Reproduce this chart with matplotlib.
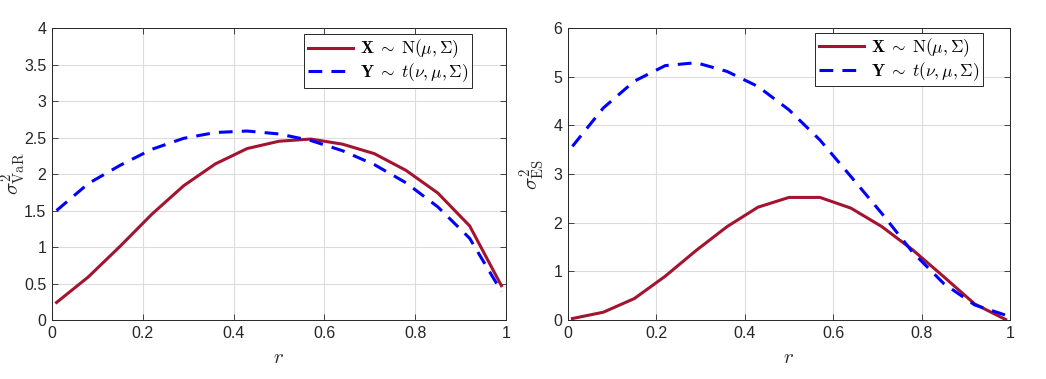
import matplotlib
matplotlib.use("Agg")
import matplotlib.pyplot as plt

r = [0.01, 0.08, 0.15, 0.22, 0.29, 0.36, 0.43, 0.50, 0.57, 0.64, 0.71, 0.78, 0.85, 0.92, 0.99]

var_normal = [0.24, 0.59, 1.01, 1.45, 1.84, 2.14, 2.35, 2.45, 2.48, 2.41, 2.28, 2.05, 1.74, 1.29, 0.47]
var_t = [1.50, 1.87, 2.12, 2.34, 2.49, 2.57, 2.59, 2.55, 2.46, 2.32, 2.13, 1.88, 1.55, 1.12, 0.39]

es_normal = [0.03, 0.16, 0.44, 0.90, 1.43, 1.92, 2.32, 2.52, 2.52, 2.30, 1.92, 1.44, 0.89, 0.33, 0.01]
es_t = [3.57, 4.36, 4.91, 5.23, 5.29, 5.11, 4.80, 4.32, 3.70, 2.95, 2.19, 1.39, 0.75, 0.31, 0.10]

xticks = [0, 0.2, 0.4, 0.6, 0.8, 1]
xticklabels = ["0", "0.2", "0.4", "0.6", "0.8", "1"]
var_yticks = [0, 0.5, 1, 1.5, 2, 2.5, 3, 3.5, 4]
var_yticklabels = ["0", "0.5", "1", "1.5", "2", "2.5", "3", "3.5", "4"]
es_yticks = [0, 1, 2, 3, 4, 5, 6]
es_yticklabels = ["0", "1", "2", "3", "4", "5", "6"]

label_x = r"$\mathbf{X}\;\sim\;\mathrm{N}(\mu, \Sigma)$"
label_y = r"$\mathbf{Y}\;\sim\;t(\nu, \mu, \Sigma)$"

plt.rcParams["mathtext.fontset"] = "cm"
plt.rcParams["font.family"] = ["Liberation Sans", "DejaVu Sans"]

RED = "#A2142F"
BLUE = "#0000FF"
TXT = "#262626"

fig = plt.figure(figsize=(10.46, 3.79), dpi=100)
ax1 = fig.add_axes([0.0497, 0.1557, 0.434, 0.770])
ax2 = fig.add_axes([0.543, 0.1557, 0.4226, 0.770])

def style(ax, yt, ytl, ylim, ylabel, ylx):
    ax.set_xlim(0, 1)
    ax.set_ylim(*ylim)
    ax.set_xticks(xticks)
    ax.set_xticklabels(xticklabels)
    ax.set_yticks(yt)
    ax.set_yticklabels(ytl)
    ax.grid(True, color="#dcdcdc", linewidth=0.8)
    ax.set_axisbelow(True)
    ax.tick_params(direction="in", top=True, right=True, labelsize=11.5,
                   colors=TXT, length=4, width=0.6, pad=4)
    for s in ax.spines.values():
        s.set_color("#262626")
        s.set_linewidth(0.7)
    ax.set_xlabel(r"$r$", fontsize=15, color=TXT)
    ax.xaxis.set_label_coords(0.5, -0.095)
    ax.set_ylabel(ylabel, fontsize=15, color=TXT)
    ax.yaxis.set_label_coords(ylx, 0.5)

ax1.plot(r, var_normal, color=RED, linewidth=2.2, label=label_x)
ax1.plot(r, var_t, color=BLUE, linewidth=2.2, linestyle=(0, (4.5, 3)), label=label_y)
style(ax1, var_yticks, var_yticklabels, (0, 4), r"$\sigma^2_{\mathrm{VaR}}$", -0.052)

ax2.plot(r, es_normal, color=RED, linewidth=2.2, label=label_x)
ax2.plot(r, es_t, color=BLUE, linewidth=2.2, linestyle=(0, (4.5, 3)), label=label_y)
style(ax2, es_yticks, es_yticklabels, (0, 6), r"$\sigma^2_{\mathrm{ES}}$", -0.047)

for ax, anchor in ((ax1, (0.925, 0.979)), (ax2, (0.939, 0.983))):
    leg = ax.legend(loc="upper right", bbox_to_anchor=anchor, fontsize=12.5,
                    fancybox=False, framealpha=1, edgecolor="#262626",
                    borderaxespad=0, handlelength=2.6, borderpad=0.2,
                    labelspacing=0.05, handletextpad=0.4)
    leg.get_frame().set_linewidth(0.7)

fig.savefig("out.png", dpi=100)
